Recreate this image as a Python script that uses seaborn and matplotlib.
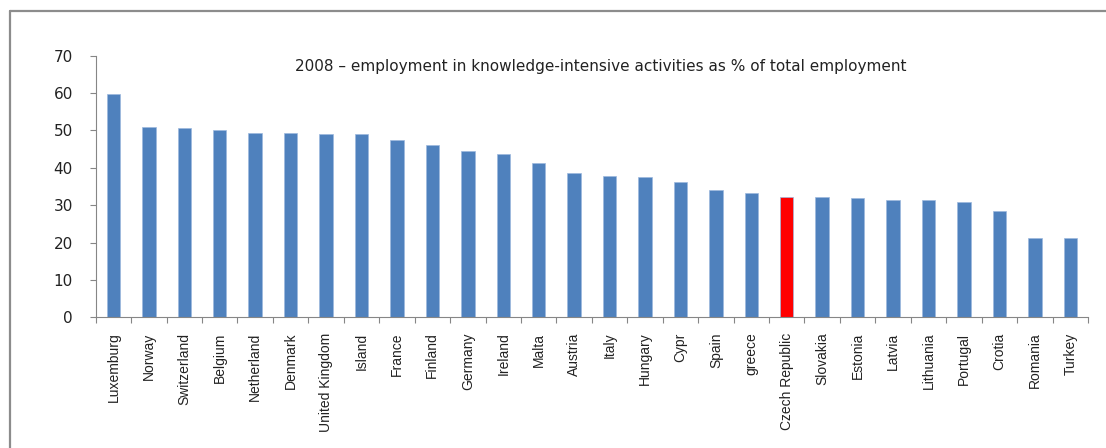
import matplotlib
matplotlib.use("Agg")
import matplotlib.pyplot as plt
import seaborn as sns
from matplotlib.lines import Line2D
from matplotlib.ticker import FixedLocator

countries = ["Luxemburg", "Norway", "Switzerland", "Belgium", "Netherland", "Denmark",
             "United Kingdom", "Island", "France", "Finland", "Germany", "Ireland", "Malta",
             "Austria", "Italy", "Hungary", "Cypr", "Spain", "greece", "Czech Republic",
             "Slovakia", "Estonia", "Latvia", "Lithuania", "Portugal", "Crotia", "Romania",
             "Turkey"]
values = [59.8, 51.0, 50.6, 50.0, 49.2, 49.2, 49.0, 49.0, 47.4, 46.1, 44.6, 43.6, 41.2,
          38.7, 37.9, 37.6, 36.3, 34.0, 33.2, 32.2, 32.2, 31.9, 31.4, 31.4, 30.9, 28.5,
          21.1, 21.1]
highlight = "Czech Republic"
title = "2008 \u2013 employment in knowledge-intensive activities as % of total employment"
yticks = [0, 10, 20, 30, 40, 50, 60, 70]

sns.set_style("white")
plt.rcParams['font.family'] = ['Liberation Sans', 'DejaVu Sans']

blue = "#4F81BD"
red = "#FF0000"
palette = {c: (red if c == highlight else blue) for c in countries}

W, H = 1106, 448
fig = plt.figure(figsize=(W / 100, H / 100), dpi=100)
ax = fig.add_axes([95.7 / W, 1 - 317.3 / H, (1088 - 95.7) / W, (317.3 - 55.7) / H])

sns.barplot(x=countries, y=values, hue=countries, palette=palette, legend=False,
            width=0.38, saturation=1, ax=ax, edgecolor="#9DB9DD", linewidth=0.5)

n = len(countries)
ax.set_xlim(-0.5, n - 0.5)
ax.set_ylim(0, 70)
ax.set_yticks(yticks)
ax.set_yticklabels([str(t) for t in yticks], fontsize=11, color="#222222",
                   family=['DejaVu Sans'])
ax.set_xticks(range(n))
ax.set_xticklabels(countries, rotation=90, fontsize=10, color="#222222")
ax.xaxis.set_minor_locator(FixedLocator([i - 0.5 for i in range(n + 1)]))
ax.tick_params(axis="x", which="major", length=0, pad=11)
ax.tick_params(axis="x", which="minor", bottom=True, length=4.5, width=0.8, color="#868686")
ax.tick_params(axis="y", which="major", left=True, length=4.5, width=0.8, color="#868686", pad=12)

for s in ["top", "right"]:
    ax.spines[s].set_visible(False)
for s in ["left", "bottom"]:
    ax.spines[s].set_color("#868686")
    ax.spines[s].set_linewidth(0.8)
ax.grid(False)
ax.set_xlabel("")
ax.set_ylabel("")

ax.text(601 / W, 1 - 66 / H, title, transform=fig.transFigure, ha="center", va="center",
        fontsize=11, color="#222222", family=['DejaVu Sans'])

# outer chart frame (left and top visible)
fig.add_artist(Line2D([9.5 / W, 9.5 / W], [0, 1 - 11 / H], transform=fig.transFigure,
                      color="#8C8C8C", linewidth=1.6))
fig.add_artist(Line2D([9.5 / W, 1], [1 - 11 / H, 1 - 11 / H], transform=fig.transFigure,
                      color="#8C8C8C", linewidth=1.6))

fig.savefig("out.png", dpi=100)
